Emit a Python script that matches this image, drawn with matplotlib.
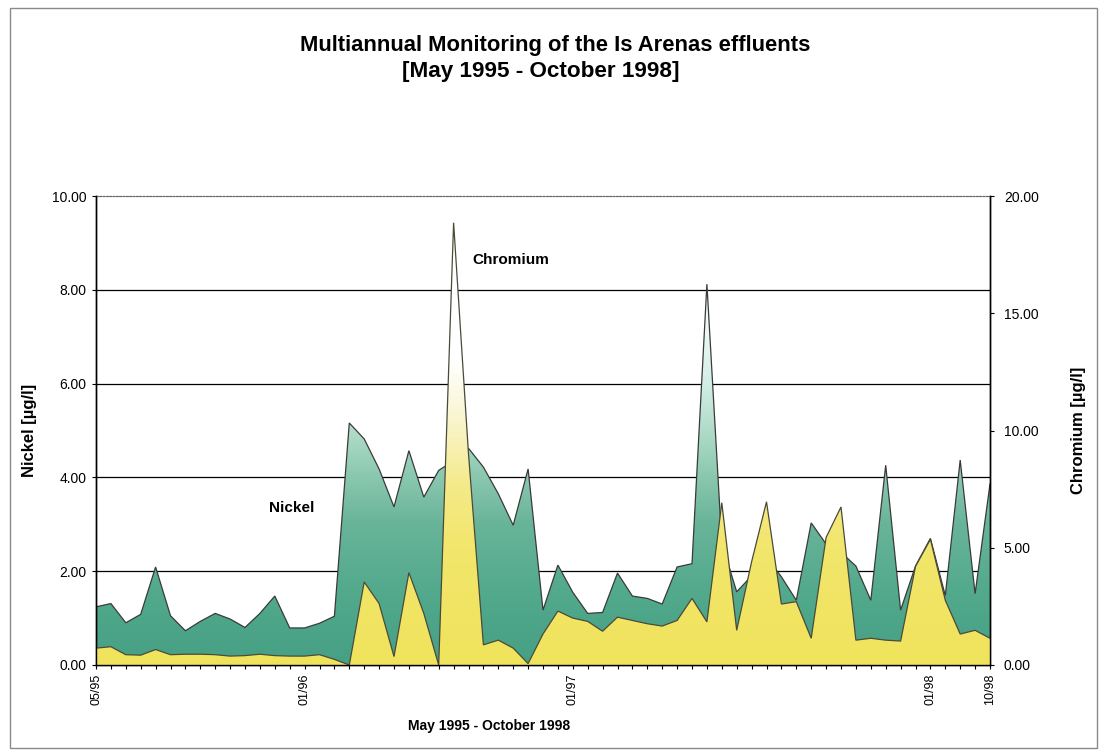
import numpy as np
import matplotlib
matplotlib.use("Agg")
import matplotlib.pyplot as plt
from matplotlib.colors import LinearSegmentedColormap
from matplotlib.patches import Rectangle

plt.rcParams['font.family'] = ['Liberation Sans', 'DejaVu Sans']

# Sample series (one value per sampling campaign)
nickel = [1.24, 1.31, 0.90, 1.08, 2.09, 1.05, 0.73, 0.93, 1.10, 0.98,
          0.80, 1.10, 1.47, 0.79, 0.79, 0.89, 1.04, 5.16, 4.82, 4.18,
          3.37, 4.57, 3.58, 4.15, 4.35, 4.62, 4.22, 3.65, 2.98, 4.18,
          1.17, 2.13, 1.55, 1.10, 1.12, 1.96, 1.47, 1.42, 1.30, 2.09,
          2.16, 8.12, 2.60, 1.56, 1.90, 2.30, 1.88, 1.38, 3.03, 2.58,
          2.40, 2.11, 1.38, 4.26, 1.17, 2.11, 2.70, 1.48, 4.37, 1.52,
          3.86]
chromium = [0.72, 0.78, 0.44, 0.42, 0.66, 0.44, 0.46, 0.46, 0.44, 0.38,
            0.40, 0.46, 0.40, 0.38, 0.38, 0.44, 0.24, 0.00, 3.54, 2.62,
            0.36, 3.94, 2.20, 0.00, 18.86, 9.00, 0.86, 1.06, 0.72, 0.06,
            1.32, 2.30, 2.00, 1.86, 1.44, 2.04, 1.90, 1.76, 1.66, 1.90,
            2.84, 1.84, 6.92, 1.48, 4.40, 6.96, 2.60, 2.70, 1.14, 5.44,
            6.74, 1.06, 1.14, 1.06, 1.02, 4.20, 5.36, 2.76, 1.32, 1.48,
            1.14]

date_ticks = [0, 14, 32, 56, 60]
date_labels = ['05/95', '01/96', '01/97', '01/98', '10/98']
nickel_ticks = [0, 2, 4, 6, 8, 10]
chromium_ticks = [0, 5, 10, 15, 20]

W, H = 1105, 753
fig = plt.figure(figsize=(W / 100, H / 100), dpi=100)
fig.patch.set_facecolor('white')

ax = fig.add_axes([96 / W, 1 - 665 / H, (990 - 96) / W, (665 - 196) / H])
ax2 = ax.twinx()

x = np.arange(len(nickel))

green_stops = [(0.00, '#46A084'), (0.15, '#52A98C'), (0.30, '#68B499'),
               (0.40, '#8AC7AF'), (0.50, '#B0DCC9'), (0.60, '#D2EEE6'),
               (0.72, '#EEF9F7'), (0.85, '#FFFFFF'), (1.00, '#FFFFFF')]
yellow_stops = [(0.00, '#F0E35C'), (0.25, '#F2E66C'), (0.38, '#F4EA88'),
                (0.46, '#F7F0B0'), (0.56, '#FBF8DE'), (0.65, '#FFFFFF'),
                (1.00, '#FFFFFF')]


def gradient_area(axis, xs, ys, top, stops, edge):
    poly = axis.fill_between(xs, ys, 0, facecolor='none', edgecolor='none')
    cmap = LinearSegmentedColormap.from_list('fill', stops)
    grad = np.linspace(0, 1, 512).reshape(-1, 1)
    im = axis.imshow(grad, cmap=cmap, origin='lower', aspect='auto',
                     extent=(xs[0], xs[-1], 0, top),
                     interpolation='bilinear', zorder=2)
    im.set_clip_path(poly.get_paths()[0], transform=axis.transData)
    axis.plot(xs, ys, color=edge, lw=0.9, solid_joinstyle='miter', zorder=3)


# Nickel (left axis) behind, chromium (right axis) in front
for v in nickel_ticks[1:-1]:
    ax.axhline(v, color='black', lw=0.9, zorder=1)
gradient_area(ax, x, np.array(nickel), 10, green_stops, '#3A3A3A')
gradient_area(ax2, x, np.array(chromium), 20, yellow_stops, '#4A4A3A')

ax.set_xlim(0, len(nickel) - 1)
ax.set_ylim(0, 10)
ax2.set_ylim(0, 20)

ax.set_yticks(nickel_ticks, [f'{v:.2f}' for v in nickel_ticks])
ax2.set_yticks(chromium_ticks, [f'{v:.2f}' for v in chromium_ticks])
ax.set_xticks(x, minor=True)
ax.set_xticks(date_ticks, date_labels, rotation=90)

ax.tick_params(axis='y', direction='out', length=3, width=0.8,
               labelsize=10, pad=4)
ax2.tick_params(axis='y', direction='out', length=3, width=0.8,
                labelsize=10, pad=7)
ax.tick_params(axis='x', which='both', direction='out', length=3,
               width=0.8, labelsize=9, pad=3)

for a in (ax, ax2):
    for s in ('left', 'right', 'bottom'):
        a.spines[s].set_color('black')
        a.spines[s].set_linewidth(1.0)
        a.spines[s].set_zorder(5)
    a.spines['top'].set_color('#666666')
    a.spines['top'].set_linewidth(0.8)
    a.spines['top'].set_linestyle((0, (1.5, 1.5)))

ax.set_ylabel('Nickel [µg/l]', fontsize=12, fontweight='bold')
ax.yaxis.set_label_coords(-0.066, 0.5)
ax2.set_ylabel('Chromium [µg/l]', fontsize=12, fontweight='bold',
               rotation=90)
ax2.yaxis.set_label_coords(1.0906, 0.5)
ax.set_xlabel('May 1995 - October 1998', fontsize=10, fontweight='bold')
ax.xaxis.set_label_coords(0.44, -0.115)

ax2.text(13.1, 6.68, 'Nickel', fontsize=11, fontweight='bold',
         ha='center', va='center', zorder=6)
ax2.text(27.85, 17.28, 'Chromium', fontsize=11, fontweight='bold',
         ha='center', va='center', zorder=6)

fig.text(0.502, 1 - 45 / H, 'Multiannual Monitoring of the Is Arenas effluents',
         ha='center', va='center', fontsize=15.8, fontweight='bold')
fig.text(0.489, 1 - 72 / H, '[May 1995 - October 1998]',
         ha='center', va='center', fontsize=16.2, fontweight='bold')

fig.patches.append(Rectangle((10 / W, 1 - 748 / H), (1097 - 10) / W,
                             (748 - 8) / H, transform=fig.transFigure,
                             fill=False, edgecolor='#8a8a8a', lw=1.0))

fig.savefig('out.png', dpi=100)
